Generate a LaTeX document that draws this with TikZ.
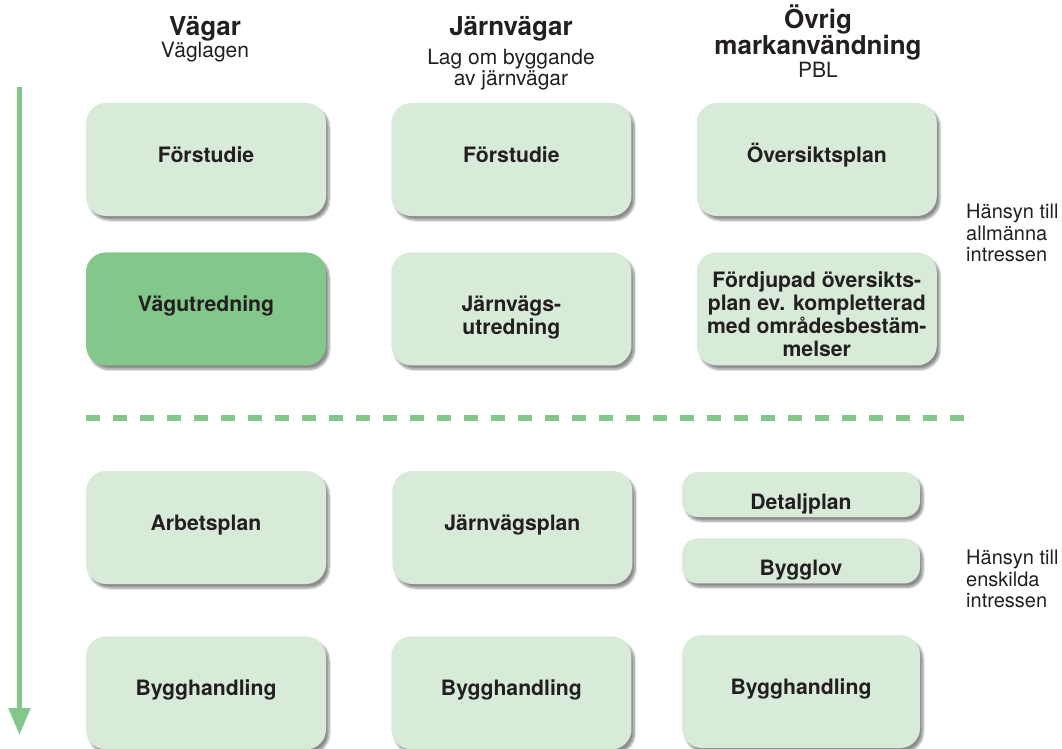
\documentclass[tikz,border=0pt]{standalone}
\usepackage{fontspec}
\setmainfont{TeX Gyre Heros}
\usepackage{tikz}
\usetikzlibrary{arrows.meta}
\usetikzlibrary{positioning}
\usetikzlibrary{shadows.blur}

\definecolor{PaleGreen}{RGB}{216,235,216}
\definecolor{MidGreen}{RGB}{131,199,139}
\definecolor{TextGray}{RGB}{35,31,32}

% several lines, lowered by #1
\newcommand{\BoxLines}[2]{\raisebox{-#1}[0pt][0pt]{\begin{tabular}{@{}c@{}}#2\end{tabular}}}

\begin{document}
\begin{tikzpicture}[x=1pt,y=-1pt]

	\tikzset{BoxStyle/.style = {shape = rectangle,
			rounded corners = 20pt,
			fill = PaleGreen,
			text = TextGray,
			align = center,
			font = \fontsize{21.2}{22.7}\selectfont\bfseries,
			minimum width = 240pt,
			minimum height = 113pt,
			inner sep = 0pt,
			text height = 7pt, text depth = 1.8pt,
			blur shadow = {shadow xshift=3pt, shadow yshift=-4pt,
				shadow blur steps=8, shadow opacity=45}}}
	\tikzset{SmallBoxStyle/.style = {BoxStyle, minimum width = 238pt,
			minimum height = 45pt, rounded corners = 16pt,
			text height = 30pt, text depth = 0.8pt}}
	\tikzset{MultiStyle/.style = {BoxStyle, text height = {}, text depth = {}}}
	\tikzset{TitleStyle/.style = {align = center, text = TextGray,
			inner sep = 0pt, font = \fontsize{26}{24}\selectfont\bfseries}}
	\tikzset{SubStyle/.style = {align = center, text = TextGray,
			inner sep = 0pt, font = \fontsize{21}{21}\selectfont}}
	\tikzset{NoteStyle/.style = {align = left, anchor = north west,
			text = TextGray, inner sep = 0pt,
			font = \fontsize{20}{21.5}\selectfont}}

	\useasboundingbox (0,0) rectangle (1062,749);

	% headings
	\node[TitleStyle](h1) at (205,28.5){Vägar};
	\node[SubStyle,below=1pt of h1](s1){Väglagen};
	\node[TitleStyle](h2) at (511,28.5){Järnvägar};
	\node[SubStyle,below=8pt of h2](s2){Lag om byggande\\av järnvägar};
	\node[TitleStyle](h3) at (818,32){Övrig\\markanvändning};
	\node[SubStyle,below=2pt of h3](s3){PBL};

	% boxes above the line
	\node[BoxStyle](v1) at (206,159.5){Förstudie};
	\node[BoxStyle,right=65pt of v1](j1){Förstudie};
	\node[BoxStyle,right=65pt of j1](o1){Översiktsplan};
	\node[BoxStyle,fill=MidGreen,below=36pt of v1](v2){Vägutredning};
	\node[MultiStyle,right=65pt of v2](j2){\BoxLines{15pt}{Järnvägs-\\utredning}};
	\node[MultiStyle,right=65pt of j2](o2){\BoxLines{14pt}{Fördjupad översikts-\\plan ev. kompletterad\\med områdesbestäm-\\melser}};

	% boxes below the line
	\node[BoxStyle](v3) at (206,527.5){Arbetsplan};
	\node[BoxStyle,right=66pt of v3](j3){Järnvägsplan};
	\node[SmallBoxStyle](o3) at (801,494.5){Detaljplan};
	\node[SmallBoxStyle,below=21pt of o3](o4){Bygglov};
	\node[BoxStyle,below=52pt of v3](v4){Bygghandling};
	\node[BoxStyle,right=65pt of v4](j4){Bygghandling};
	\node[BoxStyle,minimum width=238pt](o5) at (801,691.5){Bygghandling};

	% notes on the right
	\node[NoteStyle](n1) at (966,204){Hänsyn till\\allmänna\\intressen};
	\node[NoteStyle](n2) at (966,550){Hänsyn till\\enskilda\\intressen};

	% dashed divider and time arrow
	\coordinate (d1) at (86,418);
	\coordinate (d2) at (966,418);
	\draw[MidGreen,line width=5.3pt,dash pattern=on 13.5pt off 13.5pt](d1) -- (d2);

	\coordinate (a1) at (19.5,87);
	\coordinate (a2) at (19.5,735);
	\draw[MidGreen,line width=5pt,-{Triangle[length=27pt,width=21pt]}](a1) -- (a2);
\end{tikzpicture}
\end{document}
